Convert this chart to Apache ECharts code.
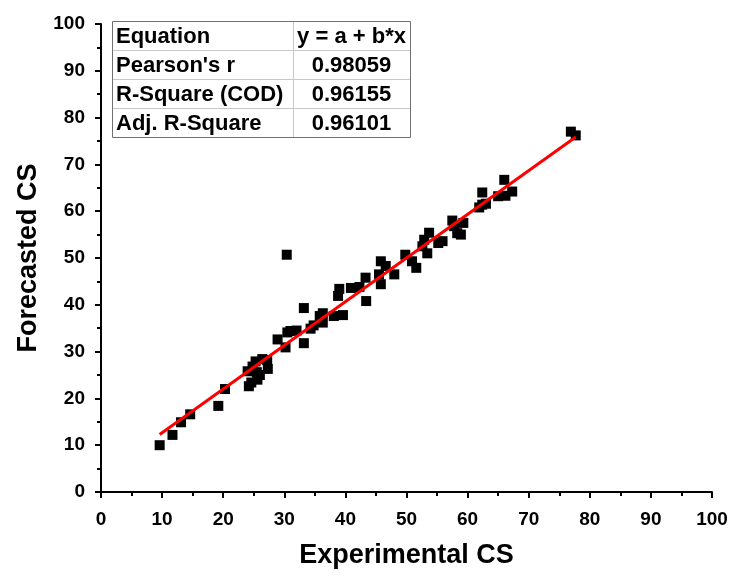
<!DOCTYPE html>
<html>
<head>
<meta charset="utf-8">
<script src="https://cdn.jsdelivr.net/npm/echarts@6/dist/echarts.min.js"></script>
<style>
  html, body { margin: 0; padding: 0; background: #fff; }
  #chart { width: 740px; height: 577px; }
</style>
</head>
<body>
<div id="chart"></div>
<script>
// Experimental vs. forecasted compressive strength
const experimentalCS = [
  9.6, 11.7, 13.1, 14.6, 19.2, 20.3, 24.0, 24.2, 24.6, 24.8,
  25.3, 25.6, 26.0, 26.4, 27.2, 27.3, 25.5, 28.9, 30.2, 30.5,
  31.0, 32.0, 33.2, 33.2, 34.3, 34.8, 35.8, 36.3, 36.3, 38.1,
  38.8, 39.0, 39.6, 40.9, 42.3, 43.3, 43.4, 45.5, 45.8, 45.8,
  46.6, 48.0, 49.8, 50.9, 51.6, 52.6, 52.9, 53.4, 53.7, 55.2,
  55.9, 57.5, 57.8, 58.3, 58.9, 59.3, 61.9, 62.4, 62.4, 63.0,
  65.0, 66.0, 66.2, 67.3, 76.9, 77.7, 30.4
];
const forecastedCS = [
  10.0, 12.2, 14.9, 16.6, 18.4, 22.0, 25.8, 22.6, 23.4, 26.8,
  27.9, 24.0, 25.0, 28.4, 28.2, 26.3, 25.6, 32.6, 30.9, 34.1,
  34.4, 34.5, 31.8, 39.3, 34.9, 35.6, 37.6, 38.2, 36.2, 37.6,
  41.9, 43.4, 37.8, 43.6, 43.8, 45.8, 40.8, 46.5, 44.4, 49.3,
  48.3, 46.5, 50.7, 49.3, 47.9, 52.5, 53.9, 51.0, 55.4, 53.2,
  53.6, 58.0, 56.8, 55.3, 55.0, 57.5, 60.8, 61.4, 64.0, 61.6,
  63.2, 66.7, 63.3, 64.2, 77.0, 76.2, 50.7
];

// Fit statistics table
const statNames = ['Equation', "Pearson's r", 'R-Square (COD)', 'Adj. R-Square'];
const statValues = ['y = a + b*x', '0.98059', '0.96155', '0.96101'];

const tickValues = [0, 10, 20, 30, 40, 50, 60, 70, 80, 90, 100];

// Least-squares line y = a + b*x through the points
function linearFit(xs, ys) {
  const n = xs.length;
  let sx = 0, sy = 0, sxx = 0, sxy = 0;
  for (let i = 0; i < n; i++) {
    sx += xs[i]; sy += ys[i]; sxx += xs[i] * xs[i]; sxy += xs[i] * ys[i];
  }
  const b = (n * sxy - sx * sy) / (n * sxx - sx * sx);
  const a = (sy - b * sx) / n;
  return { a, b };
}
const fit = linearFit(experimentalCS, forecastedCS);
const xMin = Math.min(...experimentalCS);
const xMax = Math.max(...experimentalCS);
const fitLine = [[xMin, fit.a + fit.b * xMin], [xMax, fit.a + fit.b * xMax]];
const points = experimentalCS.map((x, i) => [x, forecastedCS[i]]);

const FONT = "'Liberation Sans', Arial, sans-serif";

// Table drawn as graphic elements
const tbl = { left: 112, top: 21, width: 298, rowH: 29, split: 181 };
const tableChildren = [];
statNames.forEach((name, i) => {
  const y = tbl.top + i * tbl.rowH;
  const cy = y + tbl.rowH / 2 + 1;
  tableChildren.push({
    type: 'text', silent: true,
    style: { text: name, x: tbl.left + 4, y: cy, textAlign: 'left', textVerticalAlign: 'middle',
             font: 'bold 22px ' + FONT, fill: '#000' }
  });
  tableChildren.push({
    type: 'text', silent: true,
    style: { text: statValues[i], x: tbl.left + tbl.split + (tbl.width - tbl.split) / 2,
             y: cy, textAlign: 'center', textVerticalAlign: 'middle',
             font: 'bold 22px ' + FONT, fill: '#000' }
  });
  if (i > 0) {
    tableChildren.push({
      type: 'line', silent: true,
      shape: { x1: tbl.left, y1: y + 0.5, x2: tbl.left + tbl.width, y2: y + 0.5 },
      style: { stroke: '#c8c8c8', lineWidth: 1 }
    });
  }
});
tableChildren.push({
  type: 'line', silent: true,
  shape: { x1: tbl.left + tbl.split + 0.5, y1: tbl.top, x2: tbl.left + tbl.split + 0.5, y2: tbl.top + tbl.rowH * 4 },
  style: { stroke: '#c8c8c8', lineWidth: 1 }
});
tableChildren.push({
  type: 'rect', silent: true,
  shape: { x: tbl.left + 0.5, y: tbl.top + 0.5, width: tbl.width, height: tbl.rowH * 4 },
  style: { fill: 'none', stroke: '#707070', lineWidth: 1 }
});

const axisCommon = {
  type: 'value', min: 0, max: 100, interval: 10,
  nameLocation: 'middle',
  nameTextStyle: { fontFamily: FONT, fontWeight: 'bold', fontSize: 27, color: '#000' },
  axisLine: { show: true, onZero: false, lineStyle: { color: '#000', width: 2 } },
  axisTick: { show: true, inside: false, length: 6, lineStyle: { color: '#000', width: 2 } },
  minorTick: { show: true, splitNumber: 2, length: 4, lineStyle: { color: '#000', width: 2 } },
  splitLine: { show: false },
  axisLabel: {
    fontFamily: FONT, fontWeight: 'bold', fontSize: 19, color: '#000',
    formatter: v => (tickValues.indexOf(v) >= 0 ? String(v) : '')
  }
};

const chart = echarts.init(document.getElementById('chart'), null, { renderer: 'canvas' });
chart.setOption({
  backgroundColor: '#fff',
  animation: false,
  grid: { left: 101, right: 28, top: 24, bottom: 85, containLabel: false },
  xAxis: Object.assign({}, axisCommon, {
    name: 'Experimental CS', nameGap: 50,
    axisLabel: Object.assign({}, axisCommon.axisLabel, { margin: 18 })
  }),
  yAxis: Object.assign({}, axisCommon, {
    name: 'Forecasted CS', nameGap: 57,
    axisLabel: Object.assign({}, axisCommon.axisLabel, { margin: 16 })
  }),
  series: [
    {
      type: 'scatter', data: points, symbol: 'rect', symbolSize: 10,
      itemStyle: { color: '#000', opacity: 1 }, z: 2
    },
    {
      type: 'line', data: fitLine, showSymbol: false, symbol: 'none',
      lineStyle: { color: '#ff0000', width: 3 }, z: 3
    }
  ],
  graphic: [{ type: 'group', children: tableChildren }]
});
</script>
</body>
</html>
